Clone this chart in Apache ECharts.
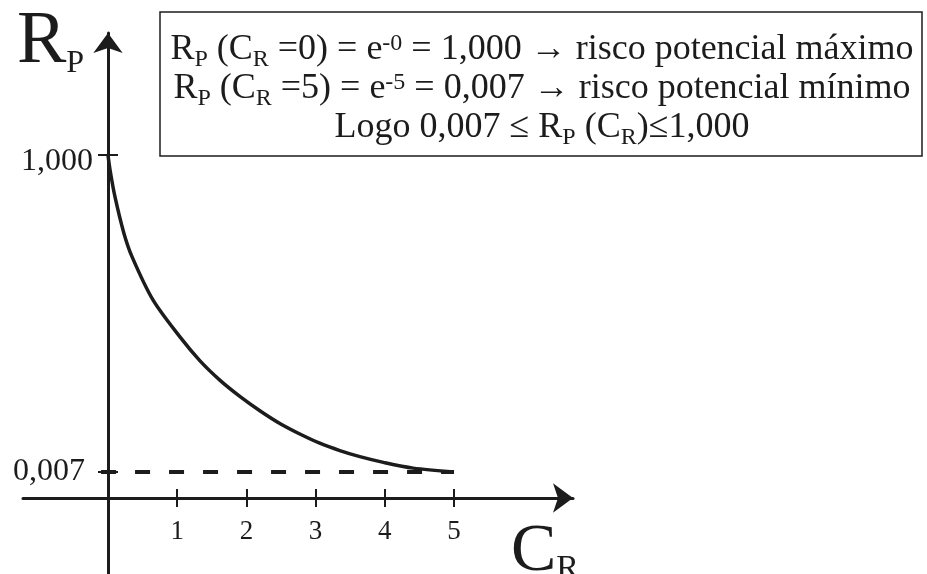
<!DOCTYPE html>
<html>
<head>
<meta charset="utf-8">
<script src="https://cdn.jsdelivr.net/npm/echarts@6/dist/echarts.min.js"></script>
<style>html,body{margin:0;padding:0;background:#fff;}#c{width:927px;height:574px;}</style>
</head>
<body>
<div id="c"></div>
<script>
// ---- data ----
const curveX = [0, 0.03, 0.10, 0.23, 0.35, 0.65, 1.04, 1.33, 1.62, 1.91, 2.20, 2.49, 2.78, 3.06, 3.35, 3.64, 3.98, 4.41, 5.00];
const curveY = [1.000, 0.953, 0.870, 0.755, 0.680, 0.546, 0.430, 0.355, 0.294, 0.243, 0.198, 0.158, 0.125, 0.097, 0.074, 0.055, 0.037, 0.019, 0.007];
const xTicks = [1, 2, 3, 4, 5];
const yTicks = [0.007, 1.000];
const minLineX = [-0.10, 5.00];
const minLineY = [0.007, 0.007];

const INK = '#1c1c1c';
const SERIF = '"Liberation Serif", "DejaVu Serif", serif';

const chart = echarts.init(document.getElementById('c'), null, {renderer: 'canvas'});

const xBase = {
  type: 'value', min: -1.228, max: 6.72,
  position: 'bottom', offset: -76,
  splitLine: {show: false},
  axisLine: {show: true, onZero: false, lineStyle: {color: INK, width: 3},
             symbol: ['none', 'arrow'], symbolSize: [22, 20]},
  axisTick: {show: true, length: 9, customValues: xTicks, lineStyle: {color: INK, width: 2}},
  axisLabel: {show: true, customValues: xTicks, margin: 20, color: INK,
              fontFamily: SERIF, fontSize: 27}
};
const xInner = Object.assign({}, xBase, {
  axisLine: {show: false, onZero: false},
  axisTick: {show: true, inside: true, length: 9, customValues: xTicks, lineStyle: {color: INK, width: 2}},
  axisLabel: {show: false}
});

const yBase = {
  type: 'value', min: -0.3127, max: 1.382, position: 'left', offset: -85,
  splitLine: {show: false},
  axisLine: {show: true, onZero: false, lineStyle: {color: INK, width: 3},
             symbol: ['none', 'arrow'], symbolSize: [22, 20]},
  axisTick: {show: true, length: 10, customValues: yTicks, lineStyle: {color: INK, width: 2}},
  axisLabel: {show: true, customValues: yTicks, margin: 15, color: INK,
              fontFamily: SERIF, fontSize: 32,
              formatter: function (v) {
                const s = v.toFixed(3).replace('.', ',');
                return v > 0.5 ? '{hi|' + s + '}' : '{lo|' + s + '}';
              },
              rich: {
                hi: {fontFamily: SERIF, fontSize: 32, color: INK, padding: [14, 0, 0, 0]},
                lo: {fontFamily: SERIF, fontSize: 32, color: INK, padding: [0, 8, 0, 0]}
              }}
};
const yInner = Object.assign({}, yBase, {
  axisLine: {show: false, onZero: false},
  axisTick: {show: true, inside: true, length: 10, customValues: yTicks, lineStyle: {color: INK, width: 2}},
  axisLabel: {show: false}
});

const boxRich = {
  m: {fontFamily: SERIF, fontSize: 36, fill: INK, lineHeight: 44},
  s: {fontFamily: SERIF, fontSize: 24, fill: INK, verticalAlign: 'bottom'},
  u: {fontFamily: SERIF, fontSize: 24, fill: INK, verticalAlign: 'top', padding: [4, 0, 0, 0]}
};
function boxText(y, txt) {
  return {type: 'text', x: 542, y: y, z: 10,
          style: {text: txt, rich: boxRich, align: 'center', verticalAlign: 'middle',
                  fontFamily: SERIF, fontSize: 36, fill: INK}};
}

chart.setOption({
  animation: false,
  backgroundColor: '#ffffff',
  grid: {left: 23, right: 354, top: 33, bottom: 0, containLabel: false, outerBoundsMode: 'none'},
  xAxis: [xBase, xInner],
  yAxis: [yBase, yInner],
  series: [
    {
      type: 'line', name: 'Rp', smooth: 0.3, showSymbol: false,
      data: curveX.map((x, i) => [x, curveY[i]]),
      lineStyle: {color: INK, width: 3.5}, z: 3
    },
    {
      type: 'line', name: 'min', showSymbol: false,
      data: minLineX.map((x, i) => [x, minLineY[i]]),
      lineStyle: {color: INK, width: 4, type: [15, 19]}, z: 2
    }
  ],
  graphic: [
    {type: 'rect', shape: {x: 160, y: 12, width: 762, height: 144},
     style: {fill: '#fff', stroke: INK, lineWidth: 1.5}, z: 5},
    boxText(50, '{m|R}{s|P}{m| (C}{s|R}{m| =0) = e}{u|-0}{m| = 1,000 → risco potencial máximo}'),
    boxText(89, '{m|R}{s|P}{m| (C}{s|R}{m| =5) = e}{u|-5}{m| = 0,007 → risco potencial mínimo}'),
    boxText(128, '{m|Logo 0,007 ≤ R}{s|P}{m| (C}{s|R}{m|)≤1,000}'),
    {type: 'text', x: 17, y: 43, z: 10,
     style: {text: '{m|R}{s|P}', align: 'left', verticalAlign: 'middle',
             rich: {m: {fontFamily: SERIF, fontSize: 74, fill: INK, lineHeight: 74},
                    s: {fontFamily: SERIF, fontSize: 32, fill: INK, verticalAlign: 'bottom'}},
             fontFamily: SERIF, fontSize: 74, fill: INK}},
    {type: 'text', x: 511, y: 552, z: 10,
     style: {text: '{m|C}{s|R}', align: 'left', verticalAlign: 'middle',
             rich: {m: {fontFamily: SERIF, fontSize: 68, fill: INK, lineHeight: 68},
                    s: {fontFamily: SERIF, fontSize: 34, fill: INK, verticalAlign: 'bottom'}},
             fontFamily: SERIF, fontSize: 68, fill: INK}}
  ]
});
</script>
</body>
</html>
